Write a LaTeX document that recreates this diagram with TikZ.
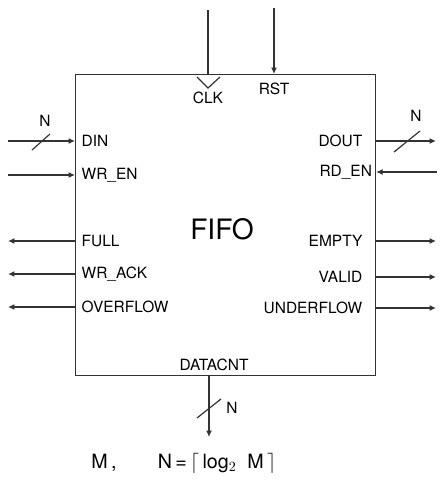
\documentclass[tikz,border=0pt]{standalone}
\usepackage{fontspec}
\setsansfont{TeX Gyre Heros}
\usetikzlibrary{positioning,arrows.meta}

\begin{document}
\begin{tikzpicture}[
    x=0.25mm, y=-0.25mm,
    font=\sffamily\fontsize{11}{13}\selectfont,
    every node/.style={align=center},
    wire/.style={draw=black!80, line width=0.3mm},
    arr/.style={wire, -{Latex[length=1.6mm, width=1.5mm]}},
    lbl/.style={inner sep=0pt},
    bus/.style={draw=black!80, line width=0.3mm},
    block/.style={draw=black!80, line width=0.3mm, minimum width=75mm,
                  minimum height=75.25mm, inner sep=0pt},
]
\useasboundingbox (0,0) rectangle (439,486);

% FIFO block
\node[block, anchor=north west] (fifo) at (75,74) {};
\node[font=\sffamily\fontsize{20}{24}\selectfont] (title) at (222,229) {FIFO};

% Clock and reset (top)
\coordinate (clk-src) at (208,10);
\coordinate (clk) at (fifo.north -| clk-src);
\draw[wire] (clk-src) -- (clk);
\draw[wire] (197,77) -- (208,88) -- (220,77);
\node[lbl] (clk-lbl) at (208,98) {CLK};

\coordinate (rst-src) at (274,8);
\coordinate (rst) at (fifo.north -| rst-src);
\draw[arr] (rst-src) -- (rst);
\node[lbl] (rst-lbl) at (274,89) {RST};

% Write side inputs (left)
\foreach \nm/\yy/\txt in {din/141/DIN, wren/175/{WR\_EN}} {
  \coordinate (\nm-src) at (8,\yy);
  \coordinate (\nm) at (fifo.west |- \nm-src);
  \draw[arr] (\nm-src) -- (\nm);
  \node[lbl, right=1.6mm of \nm] (\nm-lbl) {\txt};
}

% Write side status outputs (left)
\foreach \nm/\yy/\txt in {full/241/FULL, wrack/274/{WR\_ACK}, ovf/307/OVERFLOW} {
  \coordinate (\nm-dst) at (8,\yy);
  \coordinate (\nm) at (fifo.west |- \nm-dst);
  \draw[arr] (\nm) -- (\nm-dst);
  \node[lbl, right=1.6mm of \nm] (\nm-lbl) {\txt};
}

% Read side outputs (right)
\foreach \nm/\yy/\txt in {dout/141/DOUT, empty/241/EMPTY, valid/277/VALID, udf/308/UNDERFLOW} {
  \coordinate (\nm-dst) at (436,\yy);
  \coordinate (\nm) at (fifo.east |- \nm-dst);
  \draw[arr] (\nm) -- (\nm-dst);
  \node[lbl, left=3.4mm of \nm] (\nm-lbl) {\txt};
}

% Read enable (right)
\coordinate (rden-src) at (437,172);
\coordinate (rden) at (fifo.east |- rden-src);
\draw[arr] (rden-src) -- (rden);
\node[lbl, left=1mm of rden] (rden-lbl) {RD\_EN};

% Data count (bottom)
\coordinate (cnt-dst) at (209,437);
\coordinate (cnt) at (fifo.south -| cnt-dst);
\draw[arr] (cnt) -- (cnt-dst);
\node[lbl] (cnt-lbl) at (214,365) {DATACNT};

% Bus width marks
\draw[bus] (32,150) -- (50,134);
\node (din-w) at (45,121) {N};
\draw[bus] (394,152) -- (420,131);
\node (dout-w) at (416,116) {N};
\draw[bus] (197,418) -- (221,399);
\node (cnt-w) at (232,408) {N};

% Parameters
\node[font=\sffamily\fontsize{14}{16}\selectfont] (depth) at (104,463) {M\,,};
\node[font=\sffamily\fontsize{14}{16}\selectfont, anchor=west] (width) at (153,463)
  {N\,=\,$\lceil$\,log$_2$\; M\,$\rceil$};

\end{tikzpicture}
\end{document}
